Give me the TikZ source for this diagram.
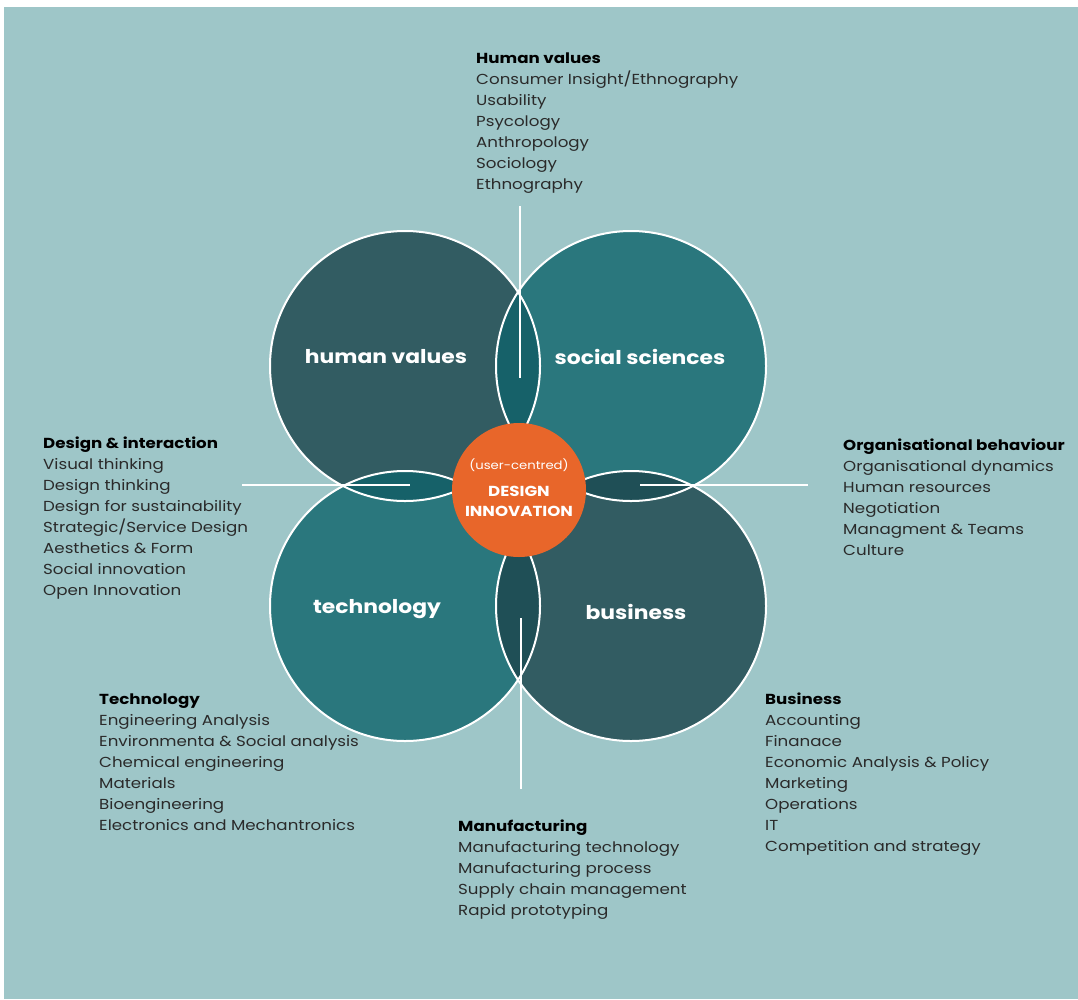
\documentclass[tikz,border=0pt]{standalone}
\usepackage{fontspec}
\setmainfont{Poppins}[FakeStretch=1.15]
\definecolor{bgc}{HTML}{9EC6C8}
\definecolor{slate}{HTML}{325C62}
\definecolor{tealc}{HTML}{2A777D}
\definecolor{lensA}{HTML}{166169}
\definecolor{lensB}{HTML}{1F4F56}
\definecolor{orangec}{HTML}{E8662A}
\definecolor{bodytext}{HTML}{2A2A2A}
\begin{document}
\begin{tikzpicture}[x=1pt,y=-1pt,
  listtext/.style={anchor=north west, inner sep=0pt, align=left, text=bodytext,
    font=\fontsize{14.5}{21}\selectfont},
  circlabel/.style={text=white, inner sep=0pt, font=\fontsize{19}{22}\selectfont\bfseries},
  outline/.style={draw=white, line width=2pt},
  axis/.style={draw=white, line width=2pt}
]
\useasboundingbox (0,0) rectangle (1078,999);
\fill[white] (0,0) rectangle (1078,999);
\fill[bgc] (4,7) rectangle (1078,999);

\coordinate (cTL) at (405,366);
\coordinate (cTR) at (631,366);
\coordinate (cBL) at (405,606);
\coordinate (cBR) at (631,606);

\fill[slate] (cTL) circle[radius=135pt];
\fill[tealc] (cTR) circle[radius=135pt];
\fill[tealc] (cBL) circle[radius=135pt];
\fill[slate] (cBR) circle[radius=135pt];

\begin{scope}
  \clip (cTL) circle[radius=135pt];
  \fill[lensA] (cTR) circle[radius=135pt];
  \fill[lensA] (cBL) circle[radius=135pt];
\end{scope}
\begin{scope}
  \clip (cBR) circle[radius=135pt];
  \fill[lensB] (cTR) circle[radius=135pt];
  \fill[lensB] (cBL) circle[radius=135pt];
\end{scope}

\draw[outline] (cTL) circle[radius=135pt];
\draw[outline] (cTR) circle[radius=135pt];
\draw[outline] (cBL) circle[radius=135pt];
\draw[outline] (cBR) circle[radius=135pt];

\coordinate (vtA) at (520,206);
\coordinate (vtB) at (520,378);
\coordinate (vbA) at (521,618);
\coordinate (vbB) at (521,789);
\coordinate (hlA) at (242,485);
\coordinate (hlB) at (410,485);
\coordinate (hrA) at (640,485);
\coordinate (hrB) at (808,485);
\draw[axis] (vtA) -- (vtB);
\draw[axis] (vbA) -- (vbB);
\draw[axis] (hlA) -- (hlB);
\draw[axis] (hrA) -- (hrB);

\fill[orangec] (519,490) circle[radius=67pt];
\node[text=white, inner sep=0pt, font=\fontsize{11.5}{13}\selectfont] (uc) at (519,465) {(user-centred)};
\node[text=white, inner sep=0pt, align=center, font=\fontsize{14.5}{20}\selectfont\bfseries, anchor=north] (di) at (519,486) {DESIGN\\INNOVATION};

\node[circlabel] (lhv) at (386,357) {human values};
\node[circlabel] (lss) at (640,357) {social sciences};
\node[circlabel] (lte) at (377,609) {technology};
\node[circlabel] (lbu) at (636,612) {business};

\node[listtext] (bhv) at (476,53) {{\color{black}\bfseries Human values}\\Consumer Insight/Ethnography\\Usability\\Psycology\\Anthropology\\Sociology\\Ethnography};
\node[listtext] (bdi) at (43,437) {{\color{black}\bfseries Design \& interaction}\\Visual thinking\\Design thinking\\Design for sustainability\\Strategic/Service Design\\Aesthetics \& Form\\Social innovation\\Open Innovation};
\node[listtext] (bob) at (843,439) {{\color{black}\bfseries Organisational behaviour}\\Organisational dynamics\\Human resources\\Negotiation\\Managment \& Teams\\Culture};
\node[listtext] (bte) at (99,694) {{\color{black}\bfseries Technology}\\Engineering Analysis\\Environmenta \& Social analysis\\Chemical engineering\\Materials\\Bioengineering\\Electronics and Mechantronics};
\node[listtext] (bbu) at (765,693) {{\color{black}\bfseries Business}\\Accounting\\Finanace\\Economic Analysis \& Policy\\Marketing\\Operations\\IT\\Competition and strategy};
\node[listtext] (bma) at (458,820) {{\color{black}\bfseries Manufacturing}\\Manufacturing technology\\Manufacturing process\\Supply chain management\\Rapid prototyping};
\end{tikzpicture}
\end{document}
